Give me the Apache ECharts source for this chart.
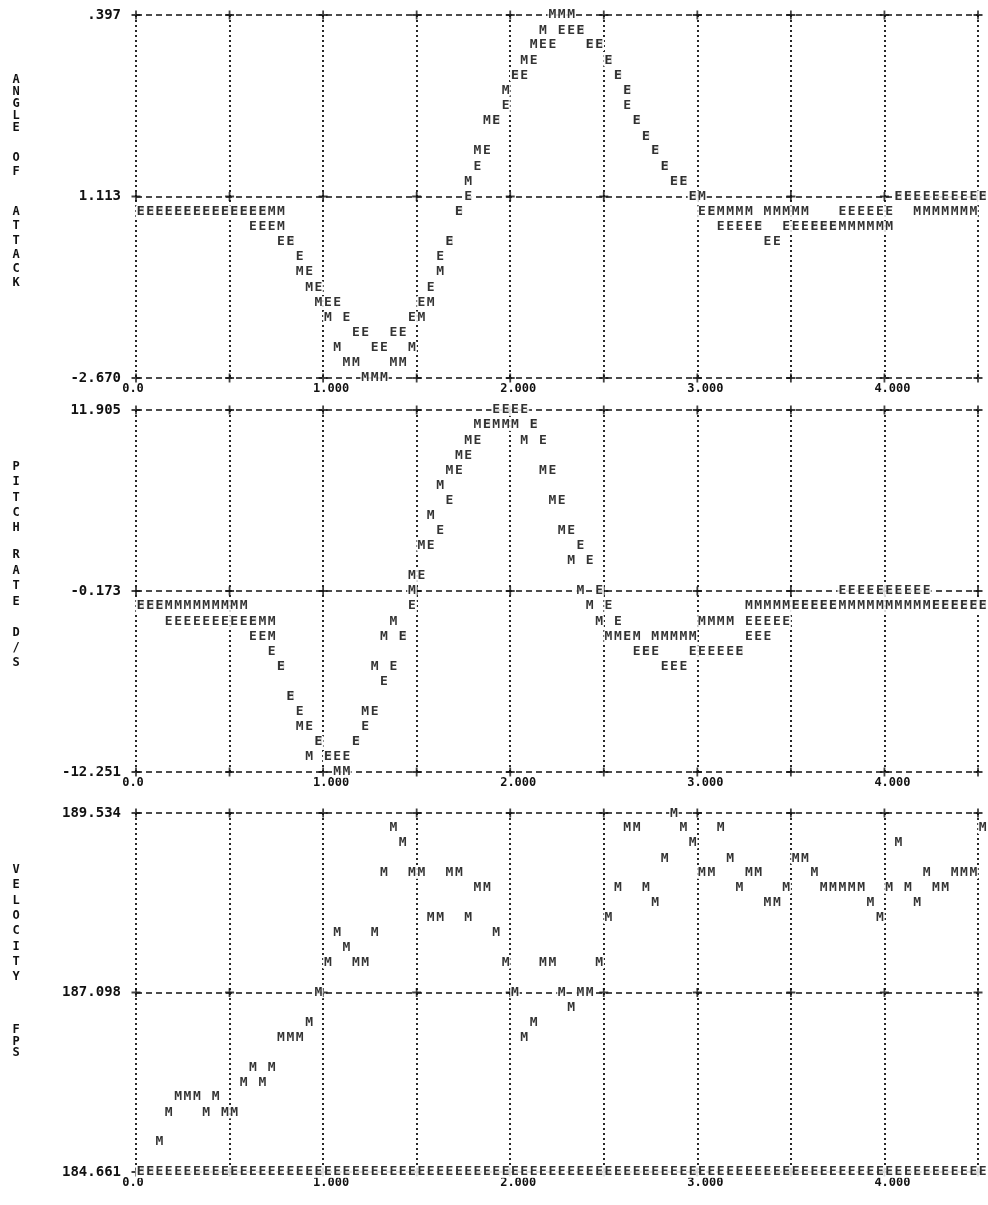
<!DOCTYPE html>
<html><head><meta charset="utf-8">
<script src="https://cdn.jsdelivr.net/npm/echarts@6/dist/echarts.min.js"></script>
<style>html,body{margin:0;padding:0;background:#fff}#c{width:988px;height:1205px}</style>
</head><body><div id="c"></div>
<script>
const time = [0,0.05,0.1,0.15,0.2,0.25,0.3,0.35,0.4,0.45,
0.5,0.55,0.6,0.65,0.7,0.75,0.8,0.85,0.9,0.95,
1,1.05,1.1,1.15,1.2,1.25,1.3,1.35,1.4,1.45,
1.5,1.55,1.6,1.65,1.7,1.75,1.8,1.85,1.9,1.95,
2,2.05,2.1,2.15,2.2,2.25,2.3,2.35,2.4,2.45,
2.5,2.55,2.6,2.65,2.7,2.75,2.8,2.85,2.9,2.95,
3,3.05,3.1,3.15,3.2,3.25,3.3,3.35,3.4,3.45,
3.5,3.55,3.6,3.65,3.7,3.75,3.8,3.85,3.9,3.95,
4,4.05,4.1,4.15,4.2,4.25,4.3,4.35,4.4,4.45,4.5];

const xTicks = [0,0.5,1,1.5,2,2.5,3,3.5,4,4.5];
const xTickLabels = ['0.0','','1.000','','2.000','','3.000','','4.000',''];

const aoaTicks = [-2.670, 1.113, 4.896];
const aoaTickLabels = ['-2.670','1.113','.397'];
const pitchTicks = [-12.251, -0.173, 11.905];
const pitchTickLabels = ['-12.251','-0.173','11.905'];
const velTicks = [184.661, 187.0975, 189.534];
const velTickLabels = ['184.661','187.098','189.534'];

// angle of attack: M and E, one value per print column
const aoaM = [0.80,0.80,0.80,0.80,0.80,0.80,0.80,0.80,0.80,0.80,
0.80,0.80,0.80,0.80,0.80,0.48,0.17,-0.46,-0.78,-1.09,
-1.41,-2.04,-2.35,-2.35,-2.67,-2.67,-2.67,-2.35,-2.35,-2.04,
-1.41,-1.09,-0.46,0.17,0.80,1.43,2.06,2.69,2.69,3.32,
3.64,3.95,4.27,4.58,4.896,4.896,4.896,4.58,4.27,4.27,
3.95,3.64,3.32,2.69,2.37,2.06,1.74,1.43,1.43,1.11,
1.11,0.80,0.80,0.80,0.80,0.80,0.48,0.80,0.80,0.80,
0.80,0.80,0.48,0.48,0.48,0.48,0.48,0.48,0.48,0.48,
0.48,1.11,1.11,0.80,0.80,0.80,0.80,0.80,0.80,0.80,1.11];
const aoaE = [0.80,0.80,0.80,0.80,0.80,0.80,0.80,0.80,0.80,0.80,
0.80,0.80,0.80,0.80,0.48,0.17,0.17,-0.15,-0.46,-0.78,
-1.09,-1.09,-1.41,-1.72,-1.72,-2.04,-2.04,-1.72,-1.72,-1.41,
-1.09,-0.78,-0.15,0.17,0.80,1.11,1.74,2.06,2.69,3.00,
3.64,3.64,3.95,4.27,4.27,4.58,4.58,4.58,4.27,4.27,
3.95,3.64,3.32,2.69,2.37,2.06,1.74,1.43,1.43,1.11,
0.80,0.80,0.48,0.48,0.48,0.48,0.48,0.17,0.17,0.48,
0.48,0.48,0.48,0.48,0.48,0.80,0.80,0.80,0.80,0.80,
0.80,1.11,1.11,1.11,1.11,1.11,1.11,1.11,1.11,1.11,1.11];
// second samples that fall in an already used print column
const aoaM2t = [0.75], aoaM2v = [0.80];
const aoaE2t = [0.6, 0.65, 2.6], aoaE2v = [0.48, 0.48, 3.00];

// pitch rate
const pitchM = [-1.18,-1.18,-1.18,-1.18,-1.18,-1.18,-1.18,-1.18,-1.18,-1.18,
-1.18,-1.18,-2.19,-2.19,-3.19,-5.21,-7.22,-9.23,-11.25,-10.24,
-11.25,-12.25,-12.25,-10.24,-8.23,-5.21,-3.19,-2.19,-3.19,0.83,
2.85,4.86,6.87,7.88,8.89,9.89,10.9,10.9,10.9,10.9,
10.9,9.89,10.9,7.88,5.87,3.85,1.84,-0.17,-1.18,-2.19,
-3.19,-3.19,-3.19,-3.19,-4.20,-3.19,-3.19,-3.19,-3.19,-3.19,
-2.19,-2.19,-2.19,-2.19,-4.20,-1.18,-1.18,-1.18,-1.18,-1.18,
-1.18,-1.18,-1.18,-1.18,-1.18,-1.18,-1.18,-1.18,-1.18,-1.18,
-1.18,-1.18,-1.18,-1.18,-1.18,-1.18,-1.18,-1.18,-1.18,-1.18,-1.18];
const pitchE = [-1.18,-1.18,-1.18,-2.19,-2.19,-2.19,-2.19,-2.19,-2.19,-2.19,
-2.19,-2.19,-2.19,-3.19,-4.20,-5.21,-7.22,-8.23,-9.23,-10.24,
-11.25,-11.25,-11.25,-10.24,-9.23,-8.23,-6.21,-5.21,-3.19,-1.18,
0.83,2.85,3.85,5.87,7.88,8.89,9.89,10.9,11.9,11.9,
11.9,11.9,10.9,9.89,7.88,5.87,3.85,2.85,1.84,-0.17,
-1.18,-2.19,-3.19,-4.20,-4.20,-4.20,-5.21,-5.21,-5.21,-4.20,
-4.20,-4.20,-4.20,-4.20,-4.20,-3.19,-3.19,-3.19,-2.19,-2.19,
-1.18,-1.18,-1.18,-1.18,-1.18,-0.17,-0.17,-0.17,-0.17,-0.17,
-0.17,-0.17,-0.17,-0.17,-0.17,-1.18,-1.18,-1.18,-1.18,-1.18,-1.18];
const pitchM2t = [0.7, 1.45], pitchM2v = [-2.19, -0.17];
const pitchE2t = [0.6, 3.25, 3.3, 3.35], pitchE2v = [-3.19, -2.19, -2.19, -2.19];

// velocity
const velM = [184.66,184.66,185.07,185.47,185.68,185.68,185.68,185.47,185.68,185.47,
185.47,185.88,186.08,185.88,186.08,186.49,186.49,186.49,186.69,187.10,
187.50,187.91,187.71,187.50,187.50,187.91,188.72,189.33,189.13,188.72,
188.72,188.11,188.11,188.72,188.72,188.11,188.52,188.52,187.91,187.50,
187.10,186.49,186.69,187.50,187.50,187.10,186.89,187.10,187.10,187.50,
188.11,188.52,189.33,189.33,188.52,188.32,188.92,189.53,189.33,189.13,
188.72,188.72,189.33,188.92,188.52,188.72,188.72,188.32,188.32,188.52,
188.92,188.92,188.72,188.52,188.52,188.52,188.52,188.52,188.32,188.11,
188.52,189.13,188.52,188.32,188.72,188.52,188.52,188.72,188.72,188.72,189.33];
const velE = [184.661,184.661,184.661,184.661,184.661,184.661,184.661,184.661,184.661,184.661,
184.661,184.661,184.661,184.661,184.661,184.661,184.661,184.661,184.661,184.661,
184.661,184.661,184.661,184.661,184.661,184.661,184.661,184.661,184.661,184.661,
184.661,184.661,184.661,184.661,184.661,184.661,184.661,184.661,184.661,184.661,
184.661,184.661,184.661,184.661,184.661,184.661,184.661,184.661,184.661,184.661,
184.661,184.661,184.661,184.661,184.661,184.661,184.661,184.661,184.661,184.661,
184.661,184.661,184.661,184.661,184.661,184.661,184.661,184.661,184.661,184.661,
184.661,184.661,184.661,184.661,184.661,184.661,184.661,184.661,184.661,184.661,
184.661,184.661,184.661,184.661,184.661,184.661,184.661,184.661,184.661,184.661,184.661];
const velM2t = [], velM2v = [];
const velE2t = [], velE2v = [];

const panelTitles = [
  [['A\nN\nG\nL\nE', 80, 12], ['O\nF', 158, 14], ['A\nT\nT\nA\nC\nK', 212, 14.2]],
  [['P\nI\nT\nC\nH', 467, 15.2], ['R\nA\nT\nE', 555, 15.5], ['D\n/\nS', 633, 15]],
  [['V\nE\nL\nO\nC\nI\nT\nY', 870, 15.3], ['F\nP\nS', 1030, 11.5]]
];

const FONT = '"DejaVu Sans Mono", "Liberation Mono", monospace';
const INK = '#111';
const layout = [{top:15, height:363}, {top:410, height:362}, {top:813, height:359}];
const panels = [
  {ticks: aoaTicks, labels: aoaTickLabels, M: aoaM, E: aoaE, M2t: aoaM2t, M2v: aoaM2v, E2t: aoaE2t, E2v: aoaE2v},
  {ticks: pitchTicks, labels: pitchTickLabels, M: pitchM, E: pitchE, M2t: pitchM2t, M2v: pitchM2v, E2t: pitchE2t, E2v: pitchE2v},
  {ticks: velTicks, labels: velTickLabels, M: velM, E: velE, M2t: velM2t, M2v: velM2v, E2t: velE2t, E2v: velE2v}
];

function nearestIndex(v, ticks) {
  let best = -1, bd = Infinity;
  ticks.forEach((t, i) => { const d = Math.abs(t - v); if (d < bd) { bd = d; best = i; } });
  return bd < 1e-3 * Math.max(1, Math.abs(v)) + 0.01 ? best : -1;
}

const labelText = {fontFamily: FONT, fontWeight: 'bold', color: INK};

const grid = [], xAxis = [], yAxis = [], series = [];
panels.forEach((p, i) => {
  grid.push({left: 136, right: 10, top: layout[i].top, height: layout[i].height, outerBoundsMode: 'none', containLabel: false});
  xAxis.push({
    gridIndex: i, type: 'value', min: 0, max: 4.5, interval: 0.5,
    axisLine: {show: false}, axisTick: {show: false},
    splitLine: {show: true, lineStyle: {color: INK, width: 1.8, type: [2, 3]}},
    axisLabel: {
      show: true, margin: 5, color: INK, fontFamily: FONT, fontWeight: 'bold', fontSize: 12,
      showMinLabel: true, showMaxLabel: true,
      formatter: v => {
        const k = nearestIndex(v, xTicks);
        if (k < 0 || !xTickLabels[k]) return '';
        return (k === 0 ? '{a|' : '{b|') + xTickLabels[k] + '}';
      },
      rich: {
        a: Object.assign({fontSize: 12, padding: [0, 6, 0, 0]}, labelText),
        b: Object.assign({fontSize: 12, padding: [0, 0, 0, 16]}, labelText)
      }
    }
  });
  const mn = p.ticks[0], mx = p.ticks[2];
  yAxis.push({
    gridIndex: i, type: 'value', min: mn, max: mx, interval: (mx - mn) / 2,
    axisLine: {show: false}, axisTick: {show: false},
    splitLine: {show: true, lineStyle: {color: INK, width: 1.6, type: [6, 4]}},
    axisLabel: {
      show: true, margin: 15, color: INK, fontFamily: FONT, fontWeight: 'bold', fontSize: 14,
      showMinLabel: true, showMaxLabel: true,
      formatter: v => { const k = nearestIndex(v, p.ticks); return k < 0 ? '' : p.labels[k]; }
    }
  });
  const cross = [];
  xTicks.forEach(x => p.ticks.forEach(y => cross.push([x, y])));
  series.push({
    type: 'scatter', xAxisIndex: i, yAxisIndex: i, silent: true, z: 2, clip: false,
    symbol: 'path://M0,4L10,4L10,6L0,6Z M4,0L6,0L6,10L4,10Z', symbolSize: 9,
    itemStyle: {color: INK}, data: cross
  });
  const letterSeries = (vals, t2, v2, ch, z) => ({
    type: 'scatter', xAxisIndex: i, yAxisIndex: i, silent: true, z: z, clip: false,
    symbol: 'circle', symbolSize: 2, itemStyle: {color: 'rgba(255,255,255,0)'},
    label: {
      show: true, position: [5.7, 1], align: 'center', verticalAlign: 'middle',
      formatter: () => ch,
      fontFamily: FONT, fontWeight: 'bold', fontSize: 13, color: '#000',
      backgroundColor: '#fff', padding: [0, 1], lineHeight: 12
    },
    labelLayout: {hideOverlap: false},
    data: time.map((t, k) => [t, vals[k]]).concat(t2.map((t, k) => [t, v2[k]]))
  });
  series.push(letterSeries(p.M, p.M2t, p.M2v, 'M', 3));
  series.push(letterSeries(p.E, p.E2t, p.E2v, 'E', 4));
});

const graphic = [];
panelTitles.forEach(group => group.forEach(([txt, y, lh]) => {
  graphic.push({type: 'text', x: 16, y: y - lh / 2, silent: true,
    style: {text: txt, align: 'center', verticalAlign: 'top', lineHeight: lh,
      font: 'bold 12px ' + FONT, fill: INK}});
}));

const chart = echarts.init(document.getElementById('c'), null, {renderer: 'canvas'});
chart.setOption({
  animation: false, backgroundColor: '#fff',
  grid, xAxis, yAxis, series, graphic
});
</script></body></html>
